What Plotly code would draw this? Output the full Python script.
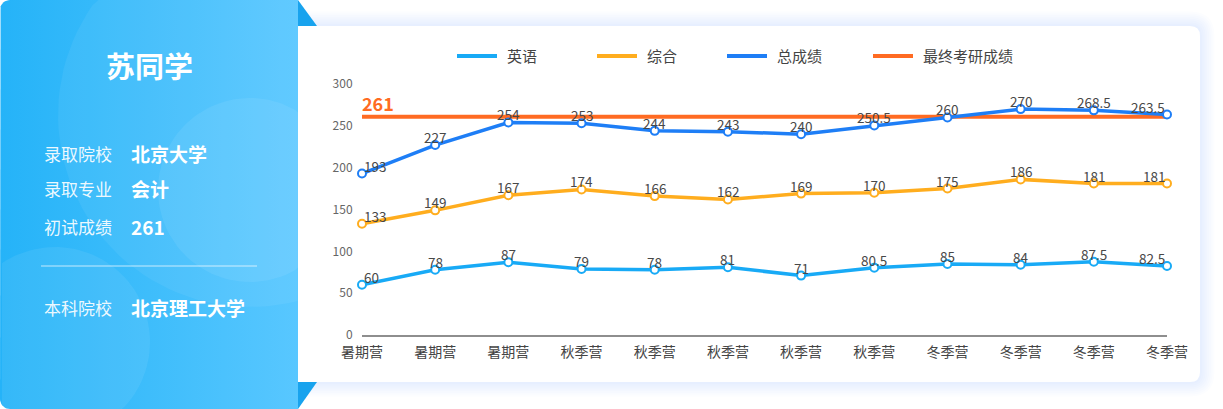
import numpy as np
import plotly.graph_objects as go

# ---------------- data ----------------
categories = ["暑期营", "暑期营", "暑期营", "秋季营", "秋季营", "秋季营",
              "秋季营", "秋季营", "冬季营", "冬季营", "冬季营", "冬季营"]
english = [60, 78, 87, 79, 78, 81, 71, 80.5, 85, 84, 87.5, 82.5]
comprehensive = [133, 149, 167, 174, 166, 162, 169, 170, 175, 186, 181, 181]
total = [193, 227, 254, 253, 244, 243, 240, 250.5, 260, 270, 268.5, 263.5]
final_score = 261
y_ticks = [0, 50, 100, 150, 200, 250, 300]

series_names = ["英语", "综合", "总成绩", "最终考研成绩"]
series_colors = ["#18AAF6", "#FFAD1E", "#1E7EF6", "#FF6B22"]

student_name = "苏同学"
info_rows = [("录取院校", "北京大学"), ("录取专业", "会计"), ("初试成绩", "261")]
undergrad_row = ("本科院校", "北京理工大学")

FONT = "Noto Sans CJK SC"
W, H = 1223, 409


def fx(x):
    return x / W


def fy(y):
    return 1 - y / H


def rr_path(x0, y0, x1, y1, r):
    """rounded rectangle path in paper coords from pixel box"""
    pts = [
        f"M{fx(x0 + r)},{fy(y0)}", f"L{fx(x1 - r)},{fy(y0)}",
        f"Q{fx(x1)},{fy(y0)} {fx(x1)},{fy(y0 + r)}",
        f"L{fx(x1)},{fy(y1 - r)}",
        f"Q{fx(x1)},{fy(y1)} {fx(x1 - r)},{fy(y1)}",
        f"L{fx(x0 + r)},{fy(y1)}",
        f"Q{fx(x0)},{fy(y1)} {fx(x0)},{fy(y1 - r)}",
        f"L{fx(x0)},{fy(y0 + r)}",
        f"Q{fx(x0)},{fy(y0)} {fx(x0 + r)},{fy(y0)}", "Z"]
    return " ".join(pts)


def poly_path(pts):
    return "M" + " L".join(f"{fx(x)},{fy(y)}" for x, y in pts) + " Z"


fig = go.Figure()

# ---------------- chart traces ----------------
xs = list(range(len(categories)))
fig.add_trace(go.Scatter(
    x=xs, y=[final_score] * len(xs), mode="lines", name=series_names[3],
    line=dict(color=series_colors[3], width=4), showlegend=False,
    hoverinfo="skip", cliponaxis=False))
for name, vals, col in zip(series_names[:3], [english, comprehensive, total], series_colors[:3]):
    fig.add_trace(go.Scatter(
        x=xs, y=vals, mode="lines+markers", name=name,
        line=dict(color=col, width=3.5),
        marker=dict(size=8, color="white", line=dict(color=col, width=2)),
        showlegend=False, cliponaxis=False, hoverinfo="skip"))

annotations = []
for vals in [english, comprehensive, total]:
    for i, v in enumerate(vals):
        anchor = "center"
        if i == 0:
            anchor = "left"
        elif i == len(vals) - 1:
            anchor = "right"
        annotations.append(dict(
            x=i, y=v, xref="x", yref="y", text=f"{v:g}", showarrow=False,
            xanchor=anchor, yanchor="bottom", yshift=-4,
            font=dict(family=FONT, size=13.5, color="#484848")))

annotations.append(dict(
    x=0, y=final_score, xref="x", yref="y", text=f"<b>{final_score}</b>",
    showarrow=False, xanchor="left", yanchor="bottom", yshift=-1, xshift=-2,
    font=dict(family=FONT, size=18, color=series_colors[3])))

# ---------------- decorative left panel (pixel overlay axis) ----------------
PX1 = 298
r = 10
bx = [PX1, PX1]
by = [0, H]
ang = np.linspace(0.5 * np.pi, np.pi, 10)
bx += list(r + r * np.cos(ang))
by += list(H - r + r * np.sin(ang))
ang = np.linspace(np.pi, 1.5 * np.pi, 10)
bx += list(r + r * np.cos(ang))
by += list(r + r * np.sin(ang))
bx.append(PX1)
by.append(0)
fig.add_trace(go.Scatter(
    x=bx, y=by, xaxis="x2", yaxis="y2", mode="lines", line=dict(width=0),
    fill="toself",
    fillgradient=dict(type="horizontal",
                      colorscale=[[0, "#25B3F8"], [0.5, "#3EBDFB"], [1, "#58C7FF"]]),
    showlegend=False, hoverinfo="skip"))

for (ccx, ccy, rad, alpha) in [(250, 115, 192, 0.06), (250, 190, 92, 0.07), (55, 342, 95, 0.07)]:
    ang = np.linspace(0, 2 * np.pi, 120)
    cxs = np.clip(ccx + rad * np.cos(ang), 2, PX1)
    cys = np.clip(ccy + rad * np.sin(ang), 0, H)
    fig.add_trace(go.Scatter(
        x=cxs, y=cys, xaxis="x2", yaxis="y2", mode="lines", line=dict(width=0),
        fill="toself", fillcolor=f"rgba(255,255,255,{alpha})",
        showlegend=False, hoverinfo="skip"))

# ---------------- shapes: card with shadow, ribbons, legend ----------------
shapes = []
for k in range(8, 0, -1):
    e = k * 1.8
    shapes.append(dict(type="path", path=rr_path(290 - e, 26 - e, 1200 + e, 382 + e, 10 + e),
                       xref="paper", yref="paper", fillcolor="rgba(95,125,240,0.016)",
                       line=dict(width=0), layer="below"))
shapes.append(dict(type="path", path=rr_path(290, 26, 1200, 382, 10),
                   xref="paper", yref="paper", fillcolor="white",
                   line=dict(width=0), layer="below"))
shapes.append(dict(type="path", path=poly_path([(298, 0), (298, 26), (317, 26)]),
                   xref="paper", yref="paper", fillcolor="#18A3EE",
                   line=dict(width=0), layer="above"))
shapes.append(dict(type="path", path=poly_path([(298, 382), (317, 382), (298, 409)]),
                   xref="paper", yref="paper", fillcolor="#18A3EE",
                   line=dict(width=0), layer="above"))
shapes.append(dict(type="line", x0=fx(41), x1=fx(257), y0=fy(266), y1=fy(266),
                   xref="paper", yref="paper",
                   line=dict(color="rgba(255,255,255,0.35)", width=2), layer="above"))

# legend (manual)
legend_x = [457, 597, 727, 873]
for lx, name, col in zip(legend_x, series_names, series_colors):
    shapes.append(dict(type="line", x0=fx(lx), x1=fx(lx + 40), y0=fy(56), y1=fy(56),
                       xref="paper", yref="paper", line=dict(color=col, width=4)))
    annotations.append(dict(x=fx(lx + 48), y=fy(56), xref="paper", yref="paper",
                            text=name, showarrow=False, xanchor="left", yanchor="middle",
                            font=dict(family=FONT, size=15, color="#444444")))

# left panel texts
annotations.append(dict(x=fx(149), y=fy(65), xref="paper", yref="paper",
                        text=f"<b>{student_name}</b>", showarrow=False,
                        xanchor="center", yanchor="middle",
                        font=dict(family=FONT, size=29, color="white")))
rows = list(zip([153, 189, 226], info_rows)) + [(307, undergrad_row)]
for ry, (lab, val) in rows:
    annotations.append(dict(x=fx(42), y=fy(ry), xref="paper", yref="paper",
                            text=lab, showarrow=False, xanchor="left", yanchor="middle",
                            font=dict(family=FONT, size=17, color="rgba(255,255,255,0.92)")))
    annotations.append(dict(x=fx(129), y=fy(ry), xref="paper", yref="paper",
                            text=f"<b>{val}</b>", showarrow=False, xanchor="left",
                            yanchor="middle",
                            font=dict(family=FONT, size=19, color="white")))

fig.update_layout(
    template="none",
    width=W, height=H, autosize=False,
    margin=dict(l=0, r=0, t=0, b=0, pad=0, autoexpand=False),
    paper_bgcolor="white", plot_bgcolor="rgba(0,0,0,0)",
    font=dict(family=FONT),
    hovermode=False,
    showlegend=False,
    xaxis=dict(domain=[fx(362), fx(1167)], range=[0, len(categories) - 1],
               tickmode="array", tickvals=xs, ticktext=categories,
               tickfont=dict(family=FONT, size=14, color="#444444"),
               showgrid=False, zeroline=False, showline=True,
               linecolor="#8e8e8e", linewidth=1.5, automargin=False,
               ticks="outside", ticklen=3, tickcolor="rgba(0,0,0,0)",
               fixedrange=True),
    yaxis=dict(domain=[1 - 335 / H, 1 - 84 / H], range=[0, 300],
               tickmode="array", tickvals=y_ticks,
               tickfont=dict(family=FONT, size=12, color="#666666"),
               showgrid=False, zeroline=False, showline=False, automargin=False,
               ticks="outside", ticklen=6, tickcolor="rgba(0,0,0,0)",
               fixedrange=True),
    xaxis2=dict(domain=[0, 1], range=[0, W], anchor="y2", visible=False,
                automargin=False, fixedrange=True),
    yaxis2=dict(domain=[0, 1], range=[H, 0], anchor="x2", visible=False,
                automargin=False, fixedrange=True),
    shapes=shapes,
    annotations=annotations,
)

fig.write_html(
    "out.html",
    config={"displayModeBar": False},
    post_script="document.body.style.margin='0';document.body.style.overflow='hidden';",
)
